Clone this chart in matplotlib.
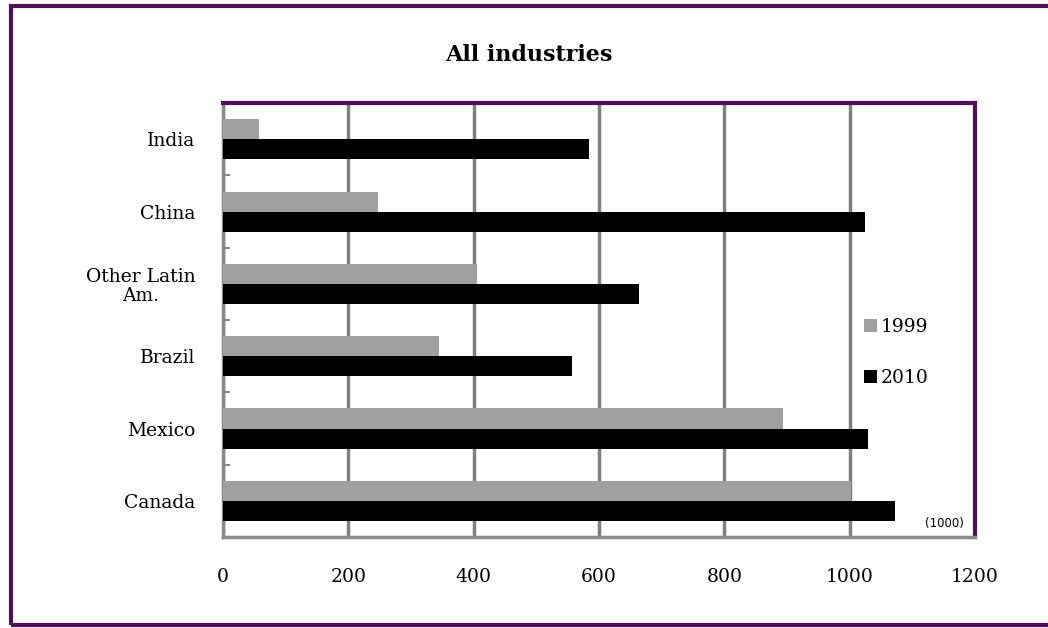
import matplotlib
matplotlib.use("Agg")
import matplotlib.pyplot as plt
import numpy as np
from matplotlib.patches import Rectangle

# data (thousands)
countries = ["Canada", "Mexico", "Brazil", "Other Latin\nAm.", "China", "India"]
vals_1999 = [1002, 893, 344, 405, 248, 58]
vals_2010 = [1072, 1029, 557, 663, 1024, 584]
xticks = [0, 200, 400, 600, 800, 1000, 1200]

purple = "#4d1156"
grid_gray = "#7f7f7f"

fig = plt.figure(figsize=(10.48, 6.28), dpi=100)
ax = fig.add_axes([0.2128, 0.1449, 0.7176, 0.691])

y = np.arange(len(countries))
h = 0.277
ax.barh(y + h / 2, vals_1999, height=h, color="#a0a0a0", label="1999", zorder=3)
ax.barh(y - h / 2, vals_2010, height=h, color="black", label="2010", zorder=3)

ax.set_xlim(0, 1200)
ax.set_ylim(-0.5, len(countries) - 0.5)
ax.set_xticks(xticks)
ax.set_xticklabels([str(t) for t in xticks], family="DejaVu Serif", fontsize=13.5)
ax.set_yticks(y)
ax.set_yticklabels(countries, family="DejaVu Serif", fontsize=13.5, linespacing=1.1,
                   multialignment="center")
ax.tick_params(axis="x", length=0, pad=22)
ax.tick_params(axis="y", length=0, pad=20)

# little marks between categories on the left
ax.set_yticks(np.arange(-0.5, len(countries)), minor=True)
ax.tick_params(axis="y", which="minor", direction="in", length=5, width=1.5, color="#888888")

ax.grid(axis="x", color=grid_gray, linewidth=2.5, zorder=0)
ax.set_axisbelow(True)

for side in ["left", "bottom"]:
    ax.spines[side].set_color("#8a8a8a")
    ax.spines[side].set_linewidth(2.5)
for side in ["top", "right"]:
    ax.spines[side].set_color(purple)
    ax.spines[side].set_linewidth(3)

ax.legend(loc="center left", bbox_to_anchor=(0.83, 0.425), frameon=False,
          prop={"family": "DejaVu Serif", "size": 13.5}, handlelength=0.7,
          handleheight=0.7, handletextpad=0.2, labelspacing=1.75)

ax.text(0.985, 0.03, "(1000)", transform=ax.transAxes, ha="right", va="center",
        fontsize=8.5, family="DejaVu Sans")

fig.text(0.505, 0.912, "All industries", ha="center", va="center",
         family="DejaVu Serif", fontsize=16, fontweight="bold")

# outer frame (right side runs off the image like the reference)
fig.patches.append(Rectangle((0.0105, 0.005), 1.02, 0.986, transform=fig.transFigure,
                             fill=False, edgecolor=purple, linewidth=3))

fig.savefig("out.png", dpi=100)
